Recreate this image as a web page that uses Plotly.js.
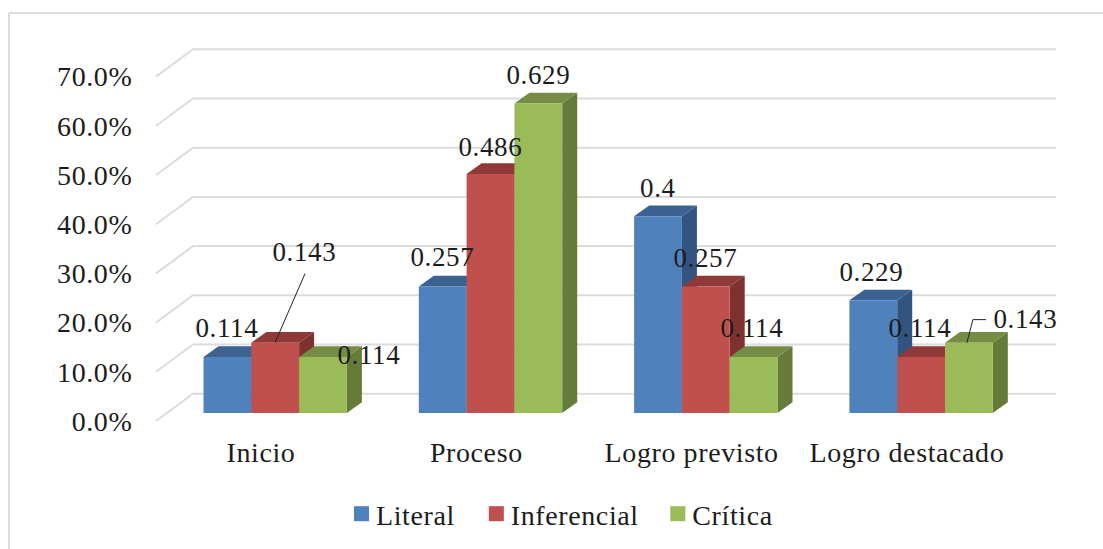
<!DOCTYPE html>
<html><head><meta charset="utf-8">
<script src="https://cdn.plot.ly/plotly-3.0.1.min.js"></script>
<style>
html,body{margin:0;padding:0;background:#fff}
#chart{width:1103px;height:549px}
#chart svg text{letter-spacing:.6px}
#chart .legendpoints path{transform:translate(40.5px,0) scale(1.25)}
</style></head><body><div id="chart"></div>
<script>
// ---- data ----
const categories = ["Inicio","Proceso","Logro previsto","Logro destacado"];
const literal = [0.114,0.257,0.4,0.229];
const inferencial = [0.143,0.486,0.257,0.114];
const critica = [0.114,0.629,0.114,0.143];
const seriesNames = ["Literal","Inferencial","Crítica"];
const yTicks = [0,0.1,0.2,0.3,0.4,0.5,0.6,0.7];

// ---- styles ----
const frontColors = ["#4f81bd","#c0504d","#9bbb59"];
const topColors = ["#3c6291","#8f3a38","#748c43"];
const sideColors = ["#335480","#7d3230","#667b39"];
const gridColor = "#dcdcdc", textColor = "#1c1c1c", fontName = "Liberation Serif";

// ---- geometry (pixels <-> axis units) ----
const W=1103,H=549,mL=150,mR=33,mT=40,mB=124;
const catPx=215.3, cat0=261, valPx=492, barBase=413, wallBase=421;
const xOfPx=p=>(p-cat0)/catPx;
const barW=47.8/catPx, barStart=xOfPx(203.5);
const depthX=15/catPx, depthY=10.7/valPx;
const wallDX=37/catPx, wallDY=27.3/valPx;
const series=[literal,inferencial,critica];

const traces=[];
// back wall and side wall gridlines
let gx=[],gy=[];
yTicks.forEach(v=>{
  gx.push(xOfPx(156),xOfPx(156)+wallDX,xOfPx(1056),null);
  gy.push(v,v+wallDY,v+wallDY,null);
});
traces.push({type:"scatter",mode:"lines",x:gx,y:gy,xaxis:"x",yaxis:"y",
  line:{color:gridColor,width:2},showlegend:false,hoverinfo:"skip"});

// 3D faces, from the values
series.forEach((vals,j)=>{
  let sx=[],sy=[],tx=[],ty=[];
  vals.forEach((v,i)=>{
    const l=i+barStart+j*barW, r=l+barW;
    sx.push(r,r+depthX,r+depthX,r,r,null);
    sy.push(0,depthY,v+depthY,v,0,null);
    tx.push(l,l+depthX,r+depthX,r,l,null);
    ty.push(v,v+depthY,v+depthY,v,v,null);
  });
  traces.push({type:"scatter",mode:"lines",x:sx,y:sy,xaxis:"x",yaxis:"y2",fill:"toself",
    fillcolor:sideColors[j],line:{width:0,color:sideColors[j]},showlegend:false,hoverinfo:"skip"});
  traces.push({type:"scatter",mode:"lines",x:tx,y:ty,xaxis:"x",yaxis:"y2",fill:"toself",
    fillcolor:topColors[j],line:{width:0,color:topColors[j]},showlegend:false,hoverinfo:"skip"});
});

// front faces
series.forEach((vals,j)=>{
  traces.push({type:"bar",name:seriesNames[j],x:categories.map((c,i)=>i),y:vals,xaxis:"x",yaxis:"y3",
    width:barW,offset:barStart+j*barW,marker:{color:frontColors[j],line:{width:0}},hoverinfo:"skip"});
});

// leader lines, anchored on the bar tops
let lx=[],ly=[];
const lead=(i,v,pts)=>{pts.forEach(p=>{lx.push(i+p[0]/catPx);ly.push(v+p[1]/valPx);});lx.push(null);ly.push(null);};
lead(0,inferencial[0],[[14,0],[44,69]]);
lead(3,critica[3],[[60,0],[66,23],[79,23]]);
traces.push({type:"scatter",mode:"lines",x:lx,y:ly,xaxis:"x",yaxis:"y3",
  line:{color:"#222",width:1},showlegend:false,hoverinfo:"skip"});

// data labels: pixel shifts from each category/value point
const labelShifts=[
  [[-34,29],[-34,29.6],[-33.6,28.2],[-35,28.3]],
  [[43,90.6],[13.7,26.9],[13.4,28.6],[13,29]],
  [[108,1.9],[61.7,28.5],[60.4,28.9],[119,23.6]]
];
const annotations=[];
series.forEach((vals,j)=>vals.forEach((v,i)=>{
  annotations.push({x:i,y:v,xref:"x",yref:"y3",text:String(v),showarrow:false,
    xshift:labelShifts[j][i][0],yshift:labelShifts[j][i][1],xanchor:"center",yanchor:"middle",
    font:{family:fontName,size:27,color:textColor}});
}));

const pxX=p=>(p-mL)/(W-mL-mR), pxY=p=>1-(p-mT)/(H-mT-mB);
const layout={
  width:W,height:H,margin:{l:mL,r:mR,t:mT,b:mB,pad:0,autoexpand:false},
  paper_bgcolor:"#fff",plot_bgcolor:"rgba(0,0,0,0)",
  font:{family:fontName,size:28,color:textColor},
  barmode:"overlay",
  xaxis:{range:[xOfPx(mL),xOfPx(W-mR)],tickvals:categories.map((c,i)=>i),ticktext:categories,
    showgrid:false,zeroline:false,showline:false,ticks:"outside",ticklen:2,tickcolor:"rgba(0,0,0,0)",tickangle:0},
  yaxis:{range:[(wallBase-(H-mB))/valPx,(wallBase-mT)/valPx],tickvals:yTicks,tickformat:".1%",
    showgrid:false,zeroline:false,showline:false,ticks:"outside",ticklen:11,tickcolor:"rgba(0,0,0,0)"},
  yaxis2:{range:[(barBase-(H-mB))/valPx,(barBase-mT)/valPx],overlaying:"y",visible:false},
  yaxis3:{range:[(barBase-(H-mB))/valPx,(barBase-mT)/valPx],overlaying:"y",visible:false},
  showlegend:true,
  legend:{orientation:"h",x:pxX(321),xanchor:"left",y:pxY(514),yanchor:"middle",itemwidth:45,
    traceorder:"normal",bgcolor:"rgba(0,0,0,0)",font:{family:fontName,size:28,color:textColor}},
  annotations,
  shapes:[
    {type:"line",xref:"paper",yref:"paper",x0:pxX(9),x1:pxX(9),y0:pxY(13),y1:pxY(549),line:{color:gridColor,width:2}},
    {type:"line",xref:"paper",yref:"paper",x0:pxX(9),x1:pxX(1103),y0:pxY(13),y1:pxY(13),line:{color:gridColor,width:2}}
  ]
};
Plotly.newPlot("chart",traces,layout,{displayModeBar:false,staticPlot:true});
</script></body></html>
